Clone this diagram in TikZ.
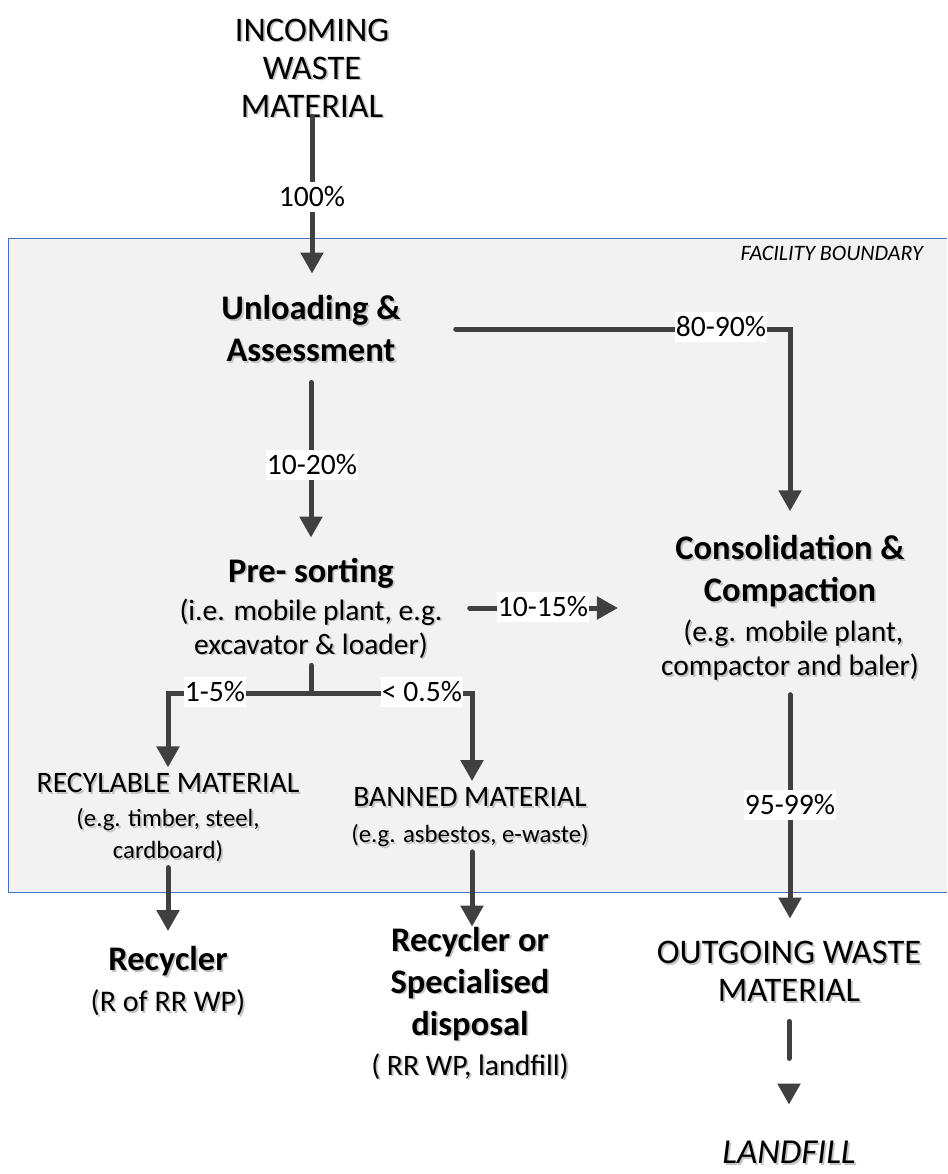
\documentclass[tikz,border=0pt]{standalone}
\usepackage{fontspec}
\setmainfont{Carlito}
\usetikzlibrary{arrows.meta,calc}
\definecolor{flowgrey}{HTML}{404040}
\definecolor{zonefill}{HTML}{F2F2F2}
\definecolor{zoneedge}{HTML}{4472C4}
\definecolor{shade}{HTML}{C4C4C4}

\newcommand\fsz[2]{\fontsize{#1}{#2}\selectfont}
% text node with a soft grey drop shadow: name, position, style, text
\newcommand\shadednode[4]{%
  \node[#3, text=shade] at ($(#2)+(1.8,1.8)$) {#4};
  \node[#3] (#1) at (#2) {#4};
}

\begin{document}
\begin{tikzpicture}[x=1pt,y=-1pt,
  every node/.style={inner sep=0pt, align=center},
  flow/.style={draw=flowgrey, line width=5pt, line cap=round,
    -{Triangle[width=22pt,length=21pt]}},
  link/.style={draw=flowgrey, line width=5pt, line cap=round},
  pct/.style={fill=white, inner xsep=0.5pt, inner ysep=5pt, font=\fsz{29.6}{34}},
  caps/.style={font=\fsz{34.5}{38}},
  title/.style={font=\bfseries\fsz{34.5}{42}},
  block/.style={font=\fsz{29.5}{34}},
  smallblock/.style={font=\fsz{24.8}{32}},
]
\useasboundingbox (0,0) rectangle (947,1174);

% facility boundary
\fill[zonefill] (8,238) rectangle (947,892);
\draw[zoneedge, line width=0.9pt] (947,238) -- (8,238) -- (8,892) -- (947,892);
\node[anchor=east, font=\itshape\fsz{22}{26}] (zone) at (923,253) {FACILITY BOUNDARY};

% process steps
\shadednode{inc}{312,68}{caps}{INCOMING\\WASTE\\MATERIAL}
\shadednode{unl}{311,329}{title}{Unloading \&\\Assessment}
\shadednode{pre}{311,608}{block}{{\bfseries\fsz{34.5}{36}Pre- sorting}\\[4pt](i.e. mobile plant, e.g.\\excavator \& loader)}
\shadednode{cons}{790,608}{block}{{\bfseries\fsz{34.5}{36}Consolidation \&}\\[8pt]{\bfseries\fsz{34.5}{36}Compaction}\\[6pt]\ (e.g. mobile plant,\\compactor and baler)}
\shadednode{rec}{168,818}{smallblock}{{\fsz{29.7}{32}RECYLABLE MATERIAL}\\[2pt](e.g. timber, steel,\\cardboard)}
\shadednode{ban}{470,817}{smallblock}{{\fsz{29.7}{32}BANNED MATERIAL}\\[4pt](e.g. asbestos, e-waste)}
\shadednode{recy}{168,981}{block}{{\bfseries\fsz{34.5}{36}Recycler}\\[7pt]{\fsz{30}{34}(R of RR WP)}}
\shadednode{spec}{470,1003}{title}{Recycler or\\Specialised\\disposal\\[-2pt]{\mdseries\fsz{29.7}{34}( RR WP, landfill)}}
\shadednode{out}{789,971}{caps}{OUTGOING WASTE\\MATERIAL}
\shadednode{land}{789,1152}{font=\itshape\fsz{35}{38}}{LANDFILL}

% connectors
\draw[flow, shorten <=-1pt, shorten >=22pt] (inc.south) -- (inc.south |- unl.north);
\draw[flow, shorten <=20pt, shorten >=20pt] (unl.south) -- (unl.south |- pre.north);
\draw[flow, shorten <=55pt, shorten >=24pt] (unl.east) -| (cons.north);
\draw[flow, shorten <=27pt, shorten >=43pt] (pre.east) -- (cons.west);
\draw[link, shorten <=7pt] (pre.south) -- ++(0,35) coordinate (fork);
\draw[flow, shorten >=6pt] (fork) -| (rec.north);
\draw[flow, shorten >=6pt] (fork) -| ([xshift=2pt]ban.north);
\draw[flow, shorten <=5pt, shorten >=15pt] (rec.south) -- (rec.south |- recy.north);
\draw[flow, shorten <=5pt, shorten >=0pt] ([xshift=2pt]ban.south) -- ([xshift=2pt]ban.south |- spec.north);
\draw[flow, shorten <=14pt, shorten >=22pt] (cons.south) -- (cons.south |- out.north);
\draw[flow, dash pattern=on 37pt off 200pt, shorten <=20pt, shorten >=36pt] (out.south) -- (out.south |- land.north);

% shares of the waste stream
\node[pct] (p100) at (312,197) {100\%};
\node[pct] (p1020) at (312,465) {10-20\%};
\node[pct] (p8090) at (721,327) {80-90\%};
\node[pct] (p1015) at (543,607) {10-15\%};
\node[pct] (p15) at (215,692) {1-5\%};
\node[pct] (p05) at (422,692) {< 0.5\%};
\node[pct] (p9599) at (790,805) {95-99\%};
\end{tikzpicture}
\end{document}
